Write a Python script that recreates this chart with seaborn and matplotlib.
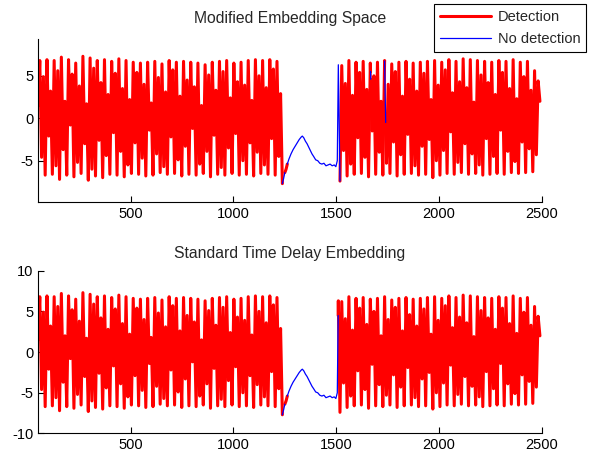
import numpy as np
import matplotlib
matplotlib.use("Agg")
import matplotlib.pyplot as plt
from matplotlib.lines import Line2D
import seaborn as sns

# signal before the gap: one start value, then per cycle peak, low mid, high mid, trough
seg1_start = 1.5
seg1_peaks = [6.8, 6.9, 6.8, 7.2, 6.9, 6.5, 7.3, 7.1, 6.8, 6.9, 6.7, 7.0, 6.8, 6.6, 6.5, 6.6, 6.7,
              6.4, 6.8, 6.6, 6.7, 6.6, 6.5, 6.3, 6.6, 6.7, 6.8, 6.5, 6.6, 6.8, 6.9, 6.8, 6.9, 6.7]
seg1_lows = [-4.6, -2.1, -5.6, -3.7, -0.8, -5.2, -3.0, -6.0, -2.6, -4.4, -1.7, -3.9, -5.5, -2.9, -4.7, -1.4, -4.2,
             -5.7, -2.2, -4.9, -3.3, -1.2, -5.4, -3.9, -2.0, -5.8, -3.5, -1.8, -5.0, -2.9, -4.0, -5.5, -2.4, -4.5]
seg1_highs = [4.9, 3.2, 5.6, 2.0, 5.2, 3.8, 1.7, 5.9, 4.2, 2.8, 5.3, 3.5, 2.2, 5.4, 4.0, 1.8, 4.8,
              3.1, 5.7, 2.6, 4.5, 3.7, 1.5, 5.1, 3.3, 5.5, 2.4, 4.3, 3.9, 2.1, 5.0, 3.6, 5.8, 2.9]
seg1_troughs = [-6.7, -6.6, -7.2, -6.7, -6.9, -6.5, -7.3, -6.8, -7.0, -6.6, -6.7, -6.9, -6.5, -6.6, -6.8, -6.7, -6.4,
                -6.6, -6.5, -6.8, -6.6, -6.7, -6.5, -6.9, -6.6, -6.7, -6.5, -6.7, -6.6, -6.8, -6.5, -6.6, -6.7, -7.7]
seg1_range = (50, 1238)

# the slow bump in the middle
bump_x = [1244, 1250, 1256, 1262, 1270, 1280, 1290, 1300, 1310, 1320, 1330, 1335, 1342, 1350, 1358,
          1366, 1374, 1382, 1390, 1400, 1410, 1420, 1430, 1440, 1450, 1460, 1470, 1480, 1490, 1498, 1505, 1510]
bump_y = [-7.1, -6.4, -6.0, -5.4, -4.8, -4.2, -3.7, -3.3, -2.9, -2.5, -2.2, -2.1, -2.3, -2.7, -3.0,
          -3.4, -3.8, -4.2, -4.5, -4.9, -5.0, -5.3, -5.4, -5.3, -5.6, -5.5, -5.4, -5.6, -5.5, -5.7, -5.0, 6.3]

# signal after the gap
seg2_start = -7.4
seg2_peaks = [6.2, 6.8, 6.6, 6.7, 6.5, 6.6, 6.8, 6.4, 6.6, 6.7, 6.5, 6.6, 6.7, 6.8,
              6.6, 6.9, 6.7, 7.0, 6.9, 6.8, 6.7, 6.6, 6.8, 6.7, 6.9, 6.6, 6.7, 5.6]
seg2_lows = [-3.8, -5.4, -2.3, -4.6, -1.5, -4.0, -5.3, -2.8, -4.3, -1.9, -5.6, -3.3, -2.5, -5.0,
             -3.8, -1.6, -5.2, -3.0, -4.2, -5.5, -2.4, -4.5, -1.4, -3.9, -5.1, -2.8, -3.6, -4.3]
seg2_highs = [4.1, 2.7, 5.4, 3.4, 5.0, 2.0, 4.0, 5.5, 2.6, 4.6, 3.2, 5.3, 2.2, 3.9,
              5.7, 3.0, 4.3, 3.6, 1.9, 5.1, 4.2, 2.8, 5.4, 3.5, 2.3, 4.9, 3.3, 4.4]
seg2_troughs = [-6.8, -6.6, -6.5, -6.9, -6.6, -6.7, -6.5, -6.8, -6.6, -6.5, -6.7, -6.6, -7.0, -6.7,
                -6.5, -6.6, -6.4, -6.6, -6.5, -6.7, -6.6, -6.5, -6.6, -6.4, -6.5, -6.4, -6.3, 2.0]
seg2_range = (1518, 2490)

# intervals marked as "No detection" in each panel
top_nodetect = [(1238, 1250), (1262, 1518), (1666.6, 1667.6), (1735, 1740.2)]
bottom_nodetect = [(1238, 1250), (1262, 1509.2)]

titles = ["Modified Embedding Space", "Standard Time Delay Embedding"]
legend_labels = ["Detection", "No detection"]
x_ticks = [500, 1000, 1500, 2000, 2500]


def build_segment(start, peaks, lows, highs, troughs, xr):
    ys = [start]
    for p, a, b, t in zip(peaks, lows, highs, troughs):
        ys += [p, a, b, t]
    xs = np.linspace(xr[0], xr[1], len(ys))
    return xs, np.array(ys)


x1, y1 = build_segment(seg1_start, seg1_peaks, seg1_lows, seg1_highs, seg1_troughs, seg1_range)
x2, y2 = build_segment(seg2_start, seg2_peaks, seg2_lows, seg2_highs, seg2_troughs, seg2_range)
sig_x = np.concatenate([x1, bump_x, x2])
sig_y = np.concatenate([y1, bump_y, y2])


def piece(a, b):
    inner = (sig_x > a) & (sig_x < b)
    xs = np.concatenate([[a], sig_x[inner], [b]])
    ys = np.interp(xs, sig_x, sig_y)
    return xs, ys


def draw_panel(ax, nodetect):
    # red everywhere outside the no-detection intervals
    edges = [sig_x[0]]
    for a, b in nodetect:
        edges += [a, b]
    edges.append(sig_x[-1])
    for i in range(0, len(edges), 2):
        xs, ys = piece(edges[i], edges[i + 1])
        sns.lineplot(x=xs, y=ys, color=(1, 0, 0), lw=2.2, ax=ax, estimator=None, sort=False)
    for a, b in nodetect:
        xs, ys = piece(a, b)
        sns.lineplot(x=xs, y=ys, color=(0, 0, 1), lw=0.9, ax=ax, estimator=None, sort=False)


sns.set_style("white")
plt.rcParams['font.family'] = ['Liberation Sans', 'DejaVu Sans']
plt.rcParams['axes.unicode_minus'] = False

fig = plt.figure(figsize=(6.02, 4.58), dpi=100)
ax1 = fig.add_axes([0.0631, 0.5583, 0.8372, 0.3559])
ax2 = fig.add_axes([0.0631, 0.0535, 0.8372, 0.3555])

draw_panel(ax1, top_nodetect)
draw_panel(ax2, bottom_nodetect)

ax1.set_ylim(-9.9, 9.3)
ax1.set_yticks([-5, 0, 5])
ax2.set_ylim(-10, 10)
ax2.set_yticks([-10, -5, 0, 5, 10])

for ax, title, pad in zip([ax1, ax2], titles, [11.5, 8.8]):
    ax.set_xlim(50, 2500)
    ax.set_xticks(x_ticks)
    ax.set_title(title, fontsize=11.3, pad=pad)
    ax.set_xlabel('')
    ax.set_ylabel('')
    for side in ['top', 'right']:
        ax.spines[side].set_visible(False)
    for side in ['left', 'bottom']:
        ax.spines[side].set_color('black')
        ax.spines[side].set_linewidth(0.8)
    ax.tick_params(direction='in', length=4, width=0.8, labelsize=10.5, pad=3.5,
                   colors='black', left=True, bottom=True)

handles = [Line2D([], [], color=(1, 0, 0), lw=2.2),
           Line2D([], [], color=(0, 0, 1), lw=0.9)]
leg = fig.legend(handles, legend_labels, loc='upper right', bbox_to_anchor=(0.9734, 0.9913),
                 borderaxespad=0, fontsize=10.5, fancybox=False, framealpha=1,
                 handlelength=3.5, handletextpad=0.45, labelspacing=0.55, borderpad=0.4)
leg.get_frame().set_edgecolor('black')
leg.get_frame().set_linewidth(0.8)

fig.savefig('out.png', dpi=100)
